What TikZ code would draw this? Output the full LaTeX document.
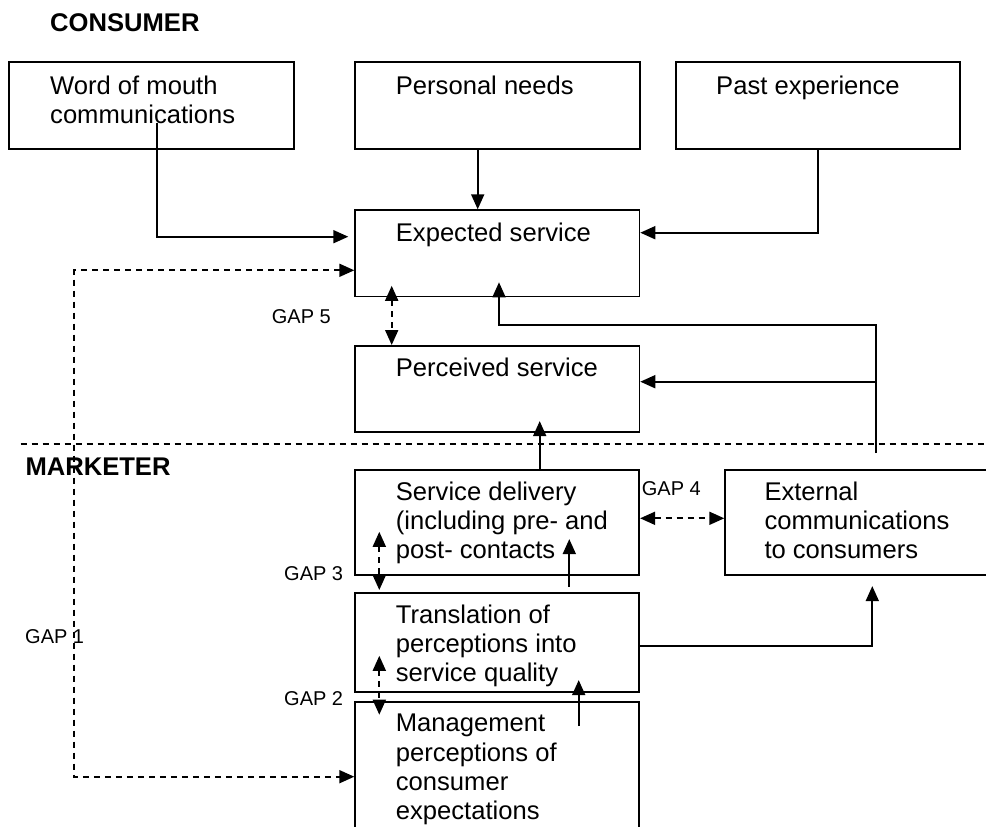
\documentclass[tikz,border=0pt]{standalone}
\usepackage{fontspec}
\setmainfont{Liberation Sans}
\usetikzlibrary{arrows.meta,calc}
\newcommand\fstrut{\rule{0pt}{20pt}}
\newcommand\gstrut{\rule{0pt}{16pt}}
\begin{document}
\begin{tikzpicture}[x=1pt,y=-1pt,
  box/.style={draw,line width=1.8pt,inner sep=0pt,anchor=north west,minimum height=#1},
  txt/.style={anchor=north west,inner sep=0pt,align=left,font=\fontsize{25.6}{29.2}\selectfont},
  hdr/.style={anchor=north west,inner sep=0pt,font=\fontsize{25.6}{29.2}\selectfont\bfseries},
  gaplbl/.style={anchor=north west,inner sep=0pt,font=\fontsize{20}{24}\selectfont},
  conn/.style={line width=1.8pt,-{Triangle[length=15pt,width=13pt]}},
  gapline/.style={line width=1.8pt,dash pattern=on 6pt off 5pt,{Triangle[length=15pt,width=13pt]}-{Triangle[length=15pt,width=13pt]}},
  divider/.style={line width=1.8pt,dash pattern=on 6pt off 5pt}]
\useasboundingbox (0,0) rectangle (986,827);
\clip (0,0) rectangle (986,827);

% boxes
\node[box=86.7pt,minimum width=285pt] (wom) at (8.3,61) {};
\node[box=86.7pt,minimum width=284.4pt] (pn) at (354.3,61) {};
\node[box=86.7pt,minimum width=284.6pt] (pe) at (674.7,61) {};
\node[box=86.2pt,minimum width=284.2pt] (exp) at (354.3,209.3) {};
\node[box=86pt,minimum width=284.2pt] (perc) at (354.3,345) {};
\node[box=105.3pt,minimum width=284pt] (sd) at (354.3,468.7) {};
\node[box=105.3pt,minimum width=300pt] (ext) at (724.3,468.7) {};
\node[box=99.3pt,minimum width=284pt] (tr) at (354.3,591.7) {};
\node[box=160pt,minimum width=284pt] (mgmt) at (354.3,700.7) {};

% headings
\node[hdr] (consumer) at (50,32.3-18.4) {CONSUMER};
\node[hdr] (marketer) at (25.3,475.7-18.4) {MARKETER};

% box texts
\node[txt] (womt) at (50,94-20) {\fstrut Word of mouth\\communications};
\node[txt] (pnt) at (395.7,94-20) {\fstrut Personal needs};
\node[txt] (pet) at (716,94-20) {\fstrut Past experience};
\node[txt] (expt) at (395.7,240.8-20) {\fstrut Expected service};
\node[txt] (perct) at (395.7,376.7-20) {\fstrut Perceived service};
\node[txt] (sdt) at (395.7,500-20) {\fstrut Service delivery\\(including pre- and\\post- contacts};
\node[txt] (extt) at (764.3,500-20) {\fstrut External\\communications\\to consumers};
\node[txt] (trt) at (395.7,623.3-20) {\fstrut Translation of\\perceptions into\\service quality};
\node[txt] (mgmtt) at (395.7,731.7-20) {\fstrut Management\\perceptions of\\consumer\\expectations};

% gap labels
\node[gaplbl] (gap5) at (271.7,323.3-16) {\gstrut GAP 5};
\node[gaplbl] (gap4) at (641.7,495-16) {\gstrut GAP 4};
\node[gaplbl] (gap3) at (284,580.5-16) {\gstrut GAP 3};
\node[gaplbl] (gap2) at (284,705-16) {\gstrut GAP 2};
\node[gaplbl] (gap1) at (25,643.5-16) {\gstrut GAP 1};

% divider
\coordinate (divL) at (20.7,444);
\coordinate (divR) at (992,444);
\draw[divider] (divL) -- (divR);

% connectors
\coordinate (womA) at (156.7,123);
\draw[conn] (womA) |- ($(exp.north west)+(-6,27.4)$);
\draw[conn] ($(pn.south west)+(123.4,0)$) -- ($(exp.north west)+(123.4,0)$);
\draw[conn] (pe.south) |- ($(exp.north east)+(0,23.4)$);

\coordinate (g1) at (74,776.7);
\draw[gapline] ($(exp.north west)+(0,61)$) -| (g1) |- ($(mgmt.north west)+(0,76)$);

\draw[gapline] ($(exp.south west)+(37.4,-11.5)$) -- ($(perc.north west)+(37.4,0)$);
\draw[conn] ($(sd.north west)+(185.4,0)$) -- ($(perc.south west)+(185.4,-11.7)$);

\coordinate (extA) at (875.7,453);
\coordinate (fbcorner) at (875.7,325);
\draw[conn] (extA) -- (fbcorner) -| ($(exp.south west)+(144.7,-15)$);
\coordinate (pB) at ($(perc.north east)+(0,36.7)$);
\draw[conn] (extA |- pB) -- (pB);

\draw[gapline] ($(sd.north east)+(0,49.6)$) -- ($(ext.north west)+(0,49.6)$);
\draw[conn] ($(tr.north west)+(215,-5)$) -- ($(sd.south west)+(215,-36.7)$);
\draw[gapline] ($(sd.south west)+(25,-44)$) -- ($(tr.north west)+(25,-1.7)$);
\draw[conn] ($(tr.north east)+(0,54)$) -| ($(ext.south west)+(148,10.3)$);
\draw[gapline] ($(tr.south west)+(25,-37)$) -- ($(mgmt.north west)+(25,14)$);
\draw[conn] ($(mgmt.north west)+(224.4,25.3)$) -- ($(tr.south west)+(224.4,-12.7)$);
\end{tikzpicture}
\end{document}
